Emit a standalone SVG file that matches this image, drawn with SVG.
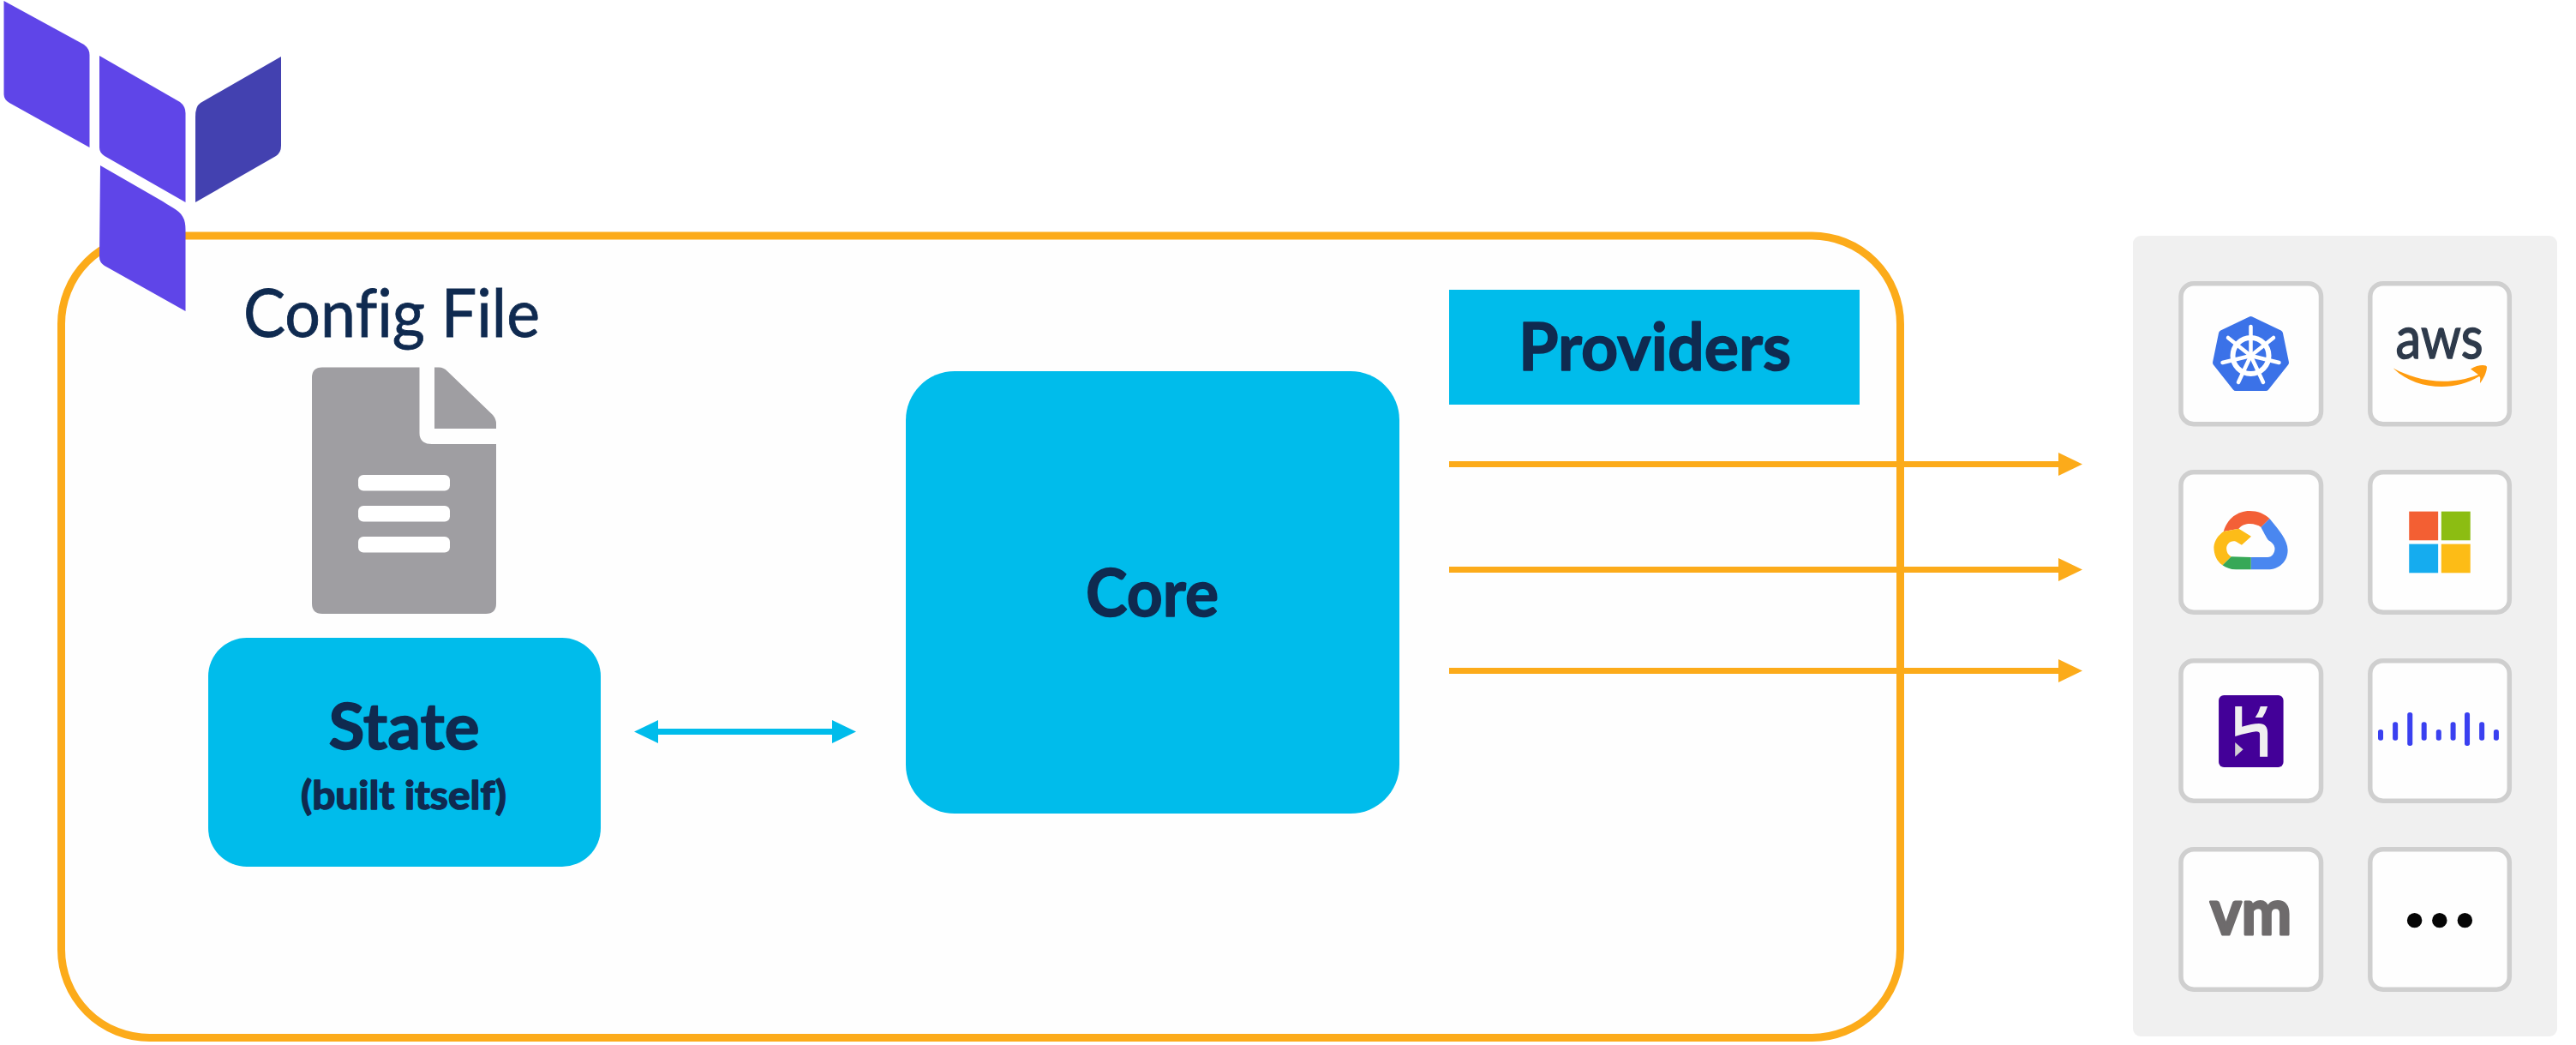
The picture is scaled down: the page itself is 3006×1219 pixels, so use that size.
<svg xmlns="http://www.w3.org/2000/svg" width="3006" height="1219" viewBox="0 0 3006 1219">
<style>
text{font-family:Lato,"Liberation Sans",sans-serif;fill:#0F2A50;font-variant-ligatures:none}
.b{font-weight:700;stroke:#0F2A50;stroke-width:1.5;stroke-linejoin:round}
.lbl{text-anchor:middle}
.blue{fill:#00BCEB}
.purple{fill:#5F45E8}
.tile{fill:#FEFEFE;stroke:#CFCFCF;stroke-width:5.5}
.org{stroke:#FCAB1A;stroke-width:7;fill:none}
</style>
<defs>
<marker id="ao" markerUnits="userSpaceOnUse" markerWidth="28" markerHeight="28" refX="1" refY="14" orient="auto"><path d="M0,0.5L28,14L0,27.5Z" fill="#FCAB1A"/></marker>
<marker id="ab" markerUnits="userSpaceOnUse" markerWidth="28" markerHeight="28" refX="1" refY="14" orient="auto-start-reverse"><path d="M0,0.5L28,14L0,27.5Z" fill="#00BCEB"/></marker>
</defs>
<rect width="3006" height="1219" fill="#fff"/>
<g id="frame"><rect x="71.500" y="275" width="2146" height="935.500" rx="103" ry="103" fill="#FEFEFE" stroke="#FCAB1A" stroke-width="9"/></g>
<g id="logo">
<path class="purple" d="M4.500,1L98,52Q104.500,57 104.500,64V172L11,120Q4.500,116 4.500,110Z"/>
<path class="purple" d="M116,65L210,119Q216.500,124 216.500,132V236L122,182Q116,178 116,172Z"/>
<path fill="#4341B0" d="M328,66V170Q328,178 322,182L228,236V136Q228,124 234,120Z"/>
<path class="purple" d="M117,193L190,235C207,246 216.500,248 216.500,268V363L122,310Q116,306 116,300Z"/>
</g>
<g id="panel"><rect x="2489" y="275" width="495" height="934" rx="9" fill="#F0F0F0"/></g>
<g id="connectors">
<path class="org" d="M1691,541.500H2403" marker-end="url(#ao)"/>
<path class="org" d="M1691,664.500H2403" marker-end="url(#ao)"/>
<path class="org" d="M1691,782.500H2403" marker-end="url(#ao)"/>
<path d="M767,853.500H972" stroke="#00BCEB" stroke-width="7" fill="none" marker-start="url(#ab)" marker-end="url(#ab)"/>
<path d="M2217.500,380V1100" stroke="#FCAB1A" stroke-width="9" fill="none"/>
</g>
<g id="config-file"><text x="284" y="393" font-size="77" textLength="346" lengthAdjust="spacingAndGlyphs" stroke="#0F2A50" stroke-width="0.8">Config File</text></g>
<g id="document">
<path fill="#9F9EA2" d="M376,428.500H489.500V505Q489.500,518 504,518H579V704Q579,716 567,716H376Q364,716 364,704V440.500Q364,428.500 376,428.500Z"/>
<path fill="#9F9EA2" d="M507,428.500H512Q518,428.500 522,433L575,484Q579,489 579,494V500H507Z"/>
<rect x="418" y="554" width="107" height="18.500" rx="6" fill="#fff"/>
<rect x="418" y="590" width="107" height="18.500" rx="6" fill="#fff"/>
<rect x="418" y="626" width="107" height="18.500" rx="6" fill="#fff"/>
</g>
<g id="state">
<rect class="blue" x="243" y="744" width="458" height="267" rx="45"/>
<text class="b lbl" x="471.500" y="874" font-size="75" textLength="176" lengthAdjust="spacingAndGlyphs">State</text>
<text class="b lbl" x="471" y="944" font-size="45" textLength="240" lengthAdjust="spacingAndGlyphs">(built itself)</text>
</g>
<g id="core">
<rect class="blue" x="1057" y="433" width="576" height="516" rx="57"/>
<text class="b lbl" x="1344.500" y="719" font-size="76" textLength="155" lengthAdjust="spacingAndGlyphs">Core</text>
</g>
<g id="providers">
<rect class="blue" x="1691" y="338" width="479" height="134"/>
<text class="b lbl" x="1931" y="432" font-size="77" textLength="318" lengthAdjust="spacingAndGlyphs">Providers</text>
</g>
<g id="kubernetes">
<rect class="tile" x="2545" y="330.700" width="163.500" height="164" rx="15"/>
<path fill="#3B72E8" stroke="#3B72E8" stroke-width="8" stroke-linejoin="round" d="M2626.500,373L2660,389L2667,423L2644,452L2609,452L2586,423L2593,389Z"/>
<g fill="none" stroke="#fff" stroke-linecap="round">
<circle cx="2626.500" cy="415" r="21" stroke-width="6"/>
<g stroke-width="4.500">
<path d="M2626.500,415V381"/><path d="M2626.500,415L2653,394"/><path d="M2626.500,415L2659.500,423"/><path d="M2626.500,415L2641,446"/><path d="M2626.500,415L2612,446"/><path d="M2626.500,415L2593.500,423"/><path d="M2626.500,415L2600,394"/>
</g></g>
</g>
<g id="aws">
<rect class="tile" x="2765.800" y="330.700" width="162.500" height="164" rx="15"/>
<text x="2795.500" y="418" font-size="70" font-weight="400" style="fill:#2E3A4B;stroke:#2E3A4B;stroke-width:1.5" textLength="102" lengthAdjust="spacingAndGlyphs">aws</text>
<path fill="#FF9C0F" d="M2792.800,429.500C2814,441 2852,453 2892,437L2883,430.500C2891,425 2902,425 2902,428C2902,434 2898,442 2894,447C2894,442 2895,440 2893,439C2863,458 2817,454 2792.800,429.500Z"/>
</g>
<g id="google-cloud">
<rect class="tile" x="2545" y="550.700" width="163.500" height="163.500" rx="15"/>
<g transform="translate(2480,260) scale(0.3356,0.3333)">
<path fill="#F36037" d="M342,1080C355,1035 390,1008 432,1008C460,1008 485,1018 502,1035L472,1065C455,1052 415,1045 395,1070Z"/>
<path fill="#4A87F0" d="M502,1035C535,1075 565,1110 565,1145C565,1185 535,1213 495,1213H437V1170H495C510,1170 520,1155 520,1140C520,1125 505,1115 497,1110C490,1100 480,1080 472,1065Z"/>
<path fill="#37A857" d="M437,1170V1213H385C365,1213 350,1207 338,1198L368,1168Z"/>
<path fill="#FDBC18" d="M342,1080L395,1070L438,1097L405,1127L385,1115C365,1110 352,1125 352,1140C352,1152 358,1162 368,1168L338,1198C318,1185 308,1160 308,1135C310,1110 325,1092 342,1080Z"/>
</g>
</g>
<g id="microsoft">
<rect class="tile" x="2765.800" y="550.700" width="162.500" height="163.500" rx="15"/>
<g transform="translate(2480,260) scale(0.3356,0.3333)">
<rect x="987" y="1010" width="101" height="101" fill="#F35F33"/>
<rect x="1099" y="1010" width="101" height="101" fill="#8CBD12"/>
<rect x="987" y="1124" width="101" height="101" fill="#15ACEF"/>
<rect x="1099" y="1124" width="101" height="101" fill="#FDBC16"/>
</g>
</g>
<g id="heroku">
<rect class="tile" x="2545" y="770.700" width="163.500" height="163.500" rx="15"/>
<g transform="translate(2480,740) scale(0.3356,0.3333)">
<rect x="325" y="213" width="225" height="252" rx="18" fill="#430098"/>
<path fill="#F0F0F0" d="M382,252H406V323Q440,313 465,312Q495,312 495,345V428H468V350Q468,340 455,340Q430,343 382,357Z"/>
<path fill="#F0F0F0" d="M470,252H495Q488,275 477,291H452Q465,272 470,252Z"/>
<path fill="#D2D2D2" d="M382,378L410,403L382,428Z"/>
</g>
</g>
<g id="cisco">
<rect class="tile" x="2765.800" y="770.700" width="162.500" height="163.500" rx="15"/>
<g transform="translate(2480,740) scale(0.3356,0.3333)" fill="#3A40F0">
<rect x="879" y="333" width="18" height="38" rx="8"/><rect x="930" y="307" width="18" height="64" rx="8"/><rect x="981" y="273" width="18" height="117" rx="8"/><rect x="1030" y="307" width="18" height="64" rx="8"/><rect x="1081" y="333" width="18" height="38" rx="8"/><rect x="1131" y="307" width="18" height="64" rx="8"/><rect x="1180" y="273" width="18" height="117" rx="8"/><rect x="1231" y="307" width="18" height="64" rx="8"/><rect x="1281" y="333" width="18" height="38" rx="8"/>
</g>
</g>
<g id="vmware">
<rect class="tile" x="2545" y="990.700" width="163.500" height="163.500" rx="15"/>
<text x="2579" y="1090" font-size="74" font-weight="700" textLength="95" lengthAdjust="spacingAndGlyphs" style="fill:#6E6B6C;stroke:#6E6B6C;stroke-width:3;stroke-linejoin:round">vm</text>
</g>
<g id="more">
<rect class="tile" x="2765.800" y="990.700" width="162.500" height="163.500" rx="15"/>
<g transform="translate(2480,740) scale(0.3356,0.3333)" fill="#050505"><circle cx="1006" cy="1001" r="26"/><circle cx="1093" cy="1001" r="26"/><circle cx="1181" cy="1001" r="26"/></g>
</g>
</svg>
